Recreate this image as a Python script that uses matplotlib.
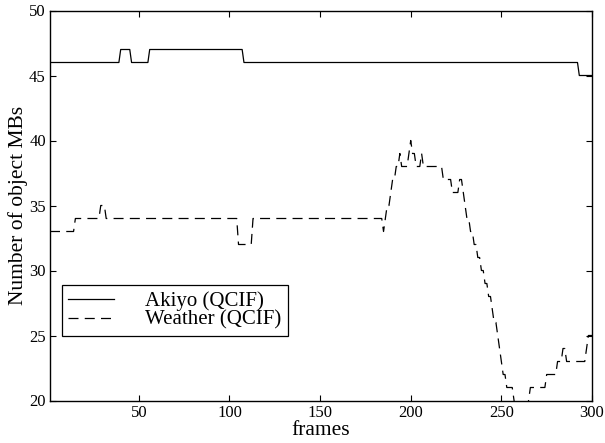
import numpy as np
import matplotlib
matplotlib.use("Agg")
import matplotlib.pyplot as plt

# Run-length readings (value, number of consecutive frames), frames 1..300
akiyo_values = [46, 47, 46, 47, 46, 45]
akiyo_lengths = [39, 6, 10, 52, 185, 8]

weather_values = [33, 34, 35, 34, 32, 34, 33, 34, 35, 36, 37, 38, 39, 38, 39, 40,
                  39, 38, 39, 38, 37, 36, 37, 36, 35, 34, 33, 32, 31, 30, 29, 28,
                  27, 26, 25, 24, 23, 22, 21, 20, 19, 20, 21, 22, 23, 24, 23, 24, 25]
weather_lengths = [14, 14, 3, 73, 8, 72, 1, 1, 2, 1, 2, 2, 1, 4, 1, 1,
                   2, 3, 1, 11, 5, 4, 2, 1, 1, 2, 2, 2, 2, 2, 2, 2,
                   1, 2, 1, 1, 1, 2, 4, 1, 7, 1, 9, 6, 3, 2, 11, 1, 3]

labels = ["Akiyo (QCIF)", "Weather (QCIF)"]
xticks = [50, 100, 150, 200, 250, 300]
yticks = [20, 25, 30, 35, 40, 45, 50]

akiyo = np.repeat(akiyo_values, akiyo_lengths)
weather = np.repeat(weather_values, weather_lengths)
frames = np.arange(1, len(akiyo) + 1)

plt.rcParams['font.family'] = ['Liberation Serif', 'DejaVu Serif']

fig = plt.figure(figsize=(6.05, 4.43), dpi=100)
ax = fig.add_axes([50/605, 1 - 400.5/443, 542/605, 390/443])

ax.plot(frames, akiyo, color='black', lw=0.9, label=labels[0])
ax.plot(np.arange(1, len(weather) + 1), weather, color='black', lw=0.9,
        dashes=(8, 5), label=labels[1])

ax.set_xlim(1, 300)
ax.set_ylim(20, 50)
ax.set_xticks(xticks)
ax.set_yticks(yticks)
ax.tick_params(direction='in', length=4, width=0.8, top=True, right=True,
               labelsize=12, pad=3)
for s in ax.spines.values():
    s.set_linewidth(1.0)

ax.set_xlabel("frames", fontsize=15.5, labelpad=0)
ax.set_ylabel("Number of object MBs", fontsize=15.5, labelpad=1)

leg = ax.legend(loc='lower left', bbox_to_anchor=(0.022, 0.165), fontsize=15,
                frameon=True, fancybox=False, edgecolor='black', framealpha=1,
                handlelength=2.2, handletextpad=1.5, labelspacing=-0.05,
                borderpad=0.3, borderaxespad=0)
leg.get_frame().set_linewidth(0.9)

fig.savefig("out.png", dpi=100)
